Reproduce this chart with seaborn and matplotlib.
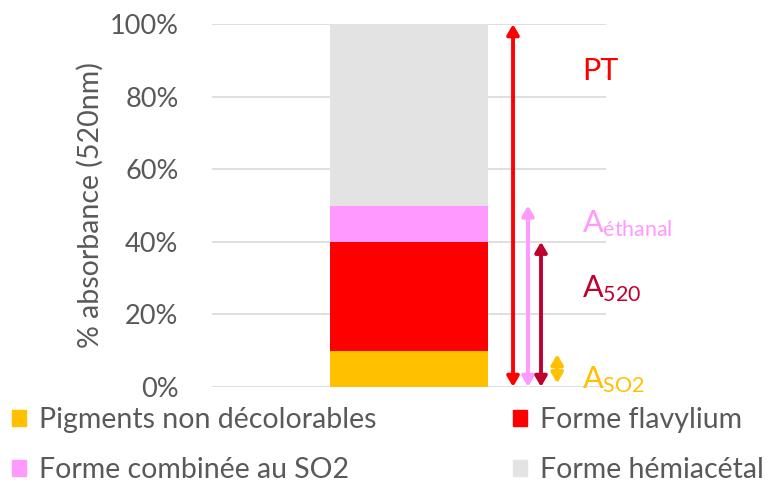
import numpy as np
import pandas as pd
import seaborn as sns
import matplotlib.pyplot as plt
from matplotlib.patches import Patch

# données
categories = ['Échantillon']
series = ['Pigments non décolorables', 'Forme flavylium',
          'Forme combinée au SO2', 'Forme hémiacétal']
values = [10, 30, 10, 50]
colors = ['#FFC000', '#FF0000', '#FF99FF', '#E3E3E3']

arrow_labels = ['PT', r'A$_{\mathrm{éthanal}}$', r'A$_{\mathrm{520}}$', r'A$_{\mathrm{SO2}}$']
arrow_bottom = [0, 0, 0, 1]
arrow_top = [100, 50, 40, 9]
label_y = [87, 45, 27, 2]
arrow_colors = ['#FF0000', '#FF99FF', '#C0002F', '#FFC000']
ticks = [0, 20, 40, 60, 80, 100]

sns.set_style('white')
plt.rcParams['font.family'] = ['Lato', 'DejaVu Sans']
plt.rcParams['mathtext.fontset'] = 'custom'
plt.rcParams['mathtext.rm'] = 'Lato'
plt.rcParams['mathtext.it'] = 'Lato'

fig = plt.figure(figsize=(7.76, 4.83), dpi=100)
ax = fig.add_axes([0.273, 0.199, 0.508, 0.751])

# barres empilées : on dessine les cumuls du haut vers le bas
cum = np.cumsum(values)
df = pd.DataFrame({'cat': categories * len(series), 'serie': series, 'cum': cum})
for i in range(len(series) - 1, -1, -1):
    sns.barplot(data=df.iloc[[i]], x='cat', y='cum', color=colors[i],
                width=0.4, saturation=1, ax=ax, zorder=2, linewidth=0)

ax.set_xlim(-0.5, 0.5)
ax.set_ylim(0, 100)
ax.set_yticks(ticks)
ax.set_yticklabels([f'{t}%' for t in ticks], fontsize=19.5, color='#595959')
ax.set_xticks([])
ax.set_xlabel('')
ax.set_ylabel('% absorbance (520nm)', fontsize=20.5, color='#595959', labelpad=4)
ax.tick_params(axis='y', length=0, pad=24)
ax.grid(axis='y', color='#D9D9D9', linewidth=1.2, zorder=0)
ax.set_axisbelow(True)
for s in ax.spines.values():
    s.set_visible(False)

arrow_x = [0.264, 0.302, 0.335, 0.376]
for xa, b, t, c in zip(arrow_x, arrow_bottom, arrow_top, arrow_colors):
    ax.annotate('', xy=(xa, t), xytext=(xa, b), annotation_clip=False,
                arrowprops=dict(arrowstyle='<|-|>,head_length=0.6,head_width=0.35',
                                color=c, lw=2.8, shrinkA=0, shrinkB=0))
for lab, ly, c in zip(arrow_labels, label_y, arrow_colors):
    ax.text(0.44, ly, lab, color=c, fontsize=22, va='center', ha='left', clip_on=False)

handles = [Patch(color=colors[i]) for i in [0, 2, 1, 3]]
labels = [series[i] for i in [0, 2, 1, 3]]
fig.legend(handles, labels, ncol=2, loc='lower left', bbox_to_anchor=(-0.018, -0.054),
           frameon=False, fontsize=20.5, labelcolor='#595959', handlelength=0.5,
           handleheight=0.5, handletextpad=0.45, columnspacing=4.8, labelspacing=0.85)

fig.savefig('out.png', dpi=100)
